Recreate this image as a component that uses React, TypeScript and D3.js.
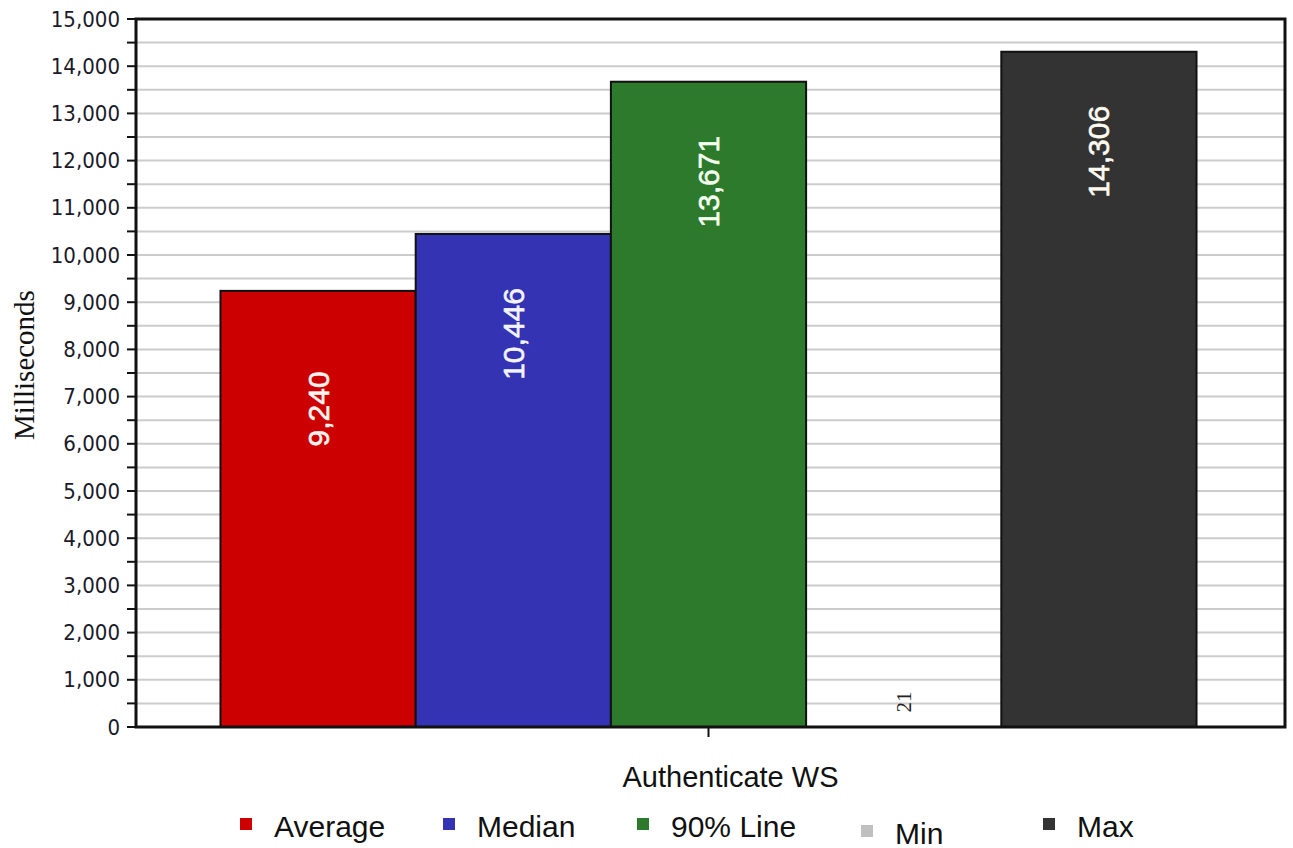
import React from "react";
import * as d3 from "d3";

const category = "Authenticate WS";
const seriesNames = ["Average", "Median", "90% Line", "Min", "Max"];
const seriesValues = [9240, 10446, 13671, 21, 14306];
const seriesColors = ["#cc0000", "#3333b3", "#2d7a2d", "#c0c0c0", "#333333"];
const labelColors = ["#fff4f0", "#f4f4ff", "#f4fff0", "#222222", "#fffaf0"];
const yTicks = d3.range(0, 15001, 1000);
const yMinor = d3.range(0, 15001, 500);

const W = 1293;
const H = 848;
const plot = { left: 136, top: 19, right: 1285, bottom: 727 };

export default function App() {
  const y = d3.scaleLinear().domain([0, 15000]).range([plot.bottom, plot.top]);
  const xGroup = d3.scaleBand().domain([category]).range([plot.left, plot.right]).paddingOuter(0.0886).paddingInner(0);
  const g0 = xGroup(category)!;
  const gw = xGroup.bandwidth();
  const xSeries = d3.scaleBand().domain(seriesNames).range([g0 - 2, g0 + gw - 2]);
  const fmt = d3.format(",");
  const center = g0 + gw / 2 - 2;

  const legendX = [240, 443, 637, 861, 1043];
  const legendDy = [0, 0, 0, 7, 0];

  return (
    <svg width={W} height={H} style={{ position: "absolute", left: 0, top: 0, background: "#fff" }}>
      {yMinor.map((t) => (
        <line key={"g" + t} x1={plot.left} x2={plot.right} y1={y(t)} y2={y(t)} stroke="#cccccc" strokeWidth={2} />
      ))}
      {seriesValues.map((v, i) => (
        <rect
          key={"b" + i}
          x={xSeries(seriesNames[i])!}
          y={y(v)}
          width={xSeries.bandwidth()}
          height={plot.bottom - y(v)}
          fill={v > 100 ? seriesColors[i] : "none"}
          stroke={v > 100 ? "#111" : "none"}
          strokeWidth={2}
        />
      ))}
      {seriesValues.map((v, i) => {
        const cx = xSeries(seriesNames[i])! + xSeries.bandwidth() / 2;
        const isSmall = v < 100;
        const cy = isSmall ? y(v) - 24 : y(v) + 100 + (String(v).length < 5 ? 18 : 0);
        return (
          <text
            key={"l" + i}
            transform={`translate(${cx},${cy}) rotate(-90)`}
            textAnchor="middle"
            dominantBaseline="central"
            fill={labelColors[i]}
            fontFamily={isSmall ? "Liberation Serif, serif" : "Liberation Sans, Arial, sans-serif"}
            fontSize={isSmall ? 21 : 30}
            fontWeight="normal"
            stroke={isSmall ? "none" : labelColors[i]}
            strokeWidth={isSmall ? 0 : 0.6}
          >
            {fmt(v)}
          </text>
        );
      })}
      <rect x={plot.left} y={plot.top} width={plot.right - plot.left} height={plot.bottom - plot.top} fill="none" stroke="#111" strokeWidth={3} />
      {yMinor.map((t) => (
        <line key={"t" + t} x1={plot.left - 9} x2={plot.left} y1={y(t)} y2={y(t)} stroke="#111" strokeWidth={2} />
      ))}
      {yTicks.map((t) => (
        <text
          key={"yl" + t}
          x={plot.left - 16}
          y={y(t)}
          textAnchor="end"
          dominantBaseline="central"
          fontFamily="DejaVu Sans Condensed, DejaVu Sans, sans-serif"
          fontSize={22}
          fill="#1a1a2a"
        >
          {fmt(t)}
        </text>
      ))}
      <line x1={center} x2={center} y1={plot.bottom} y2={plot.bottom + 10} stroke="#111" strokeWidth={2} />
      <text x={center + 22} y={777} textAnchor="middle" dominantBaseline="central" fontFamily="Liberation Sans, Arial, sans-serif" fontSize={29} fill="#111">
        {category}
      </text>
      <text transform={`translate(24,365) rotate(-90)`} textAnchor="middle" dominantBaseline="central" fontFamily="Liberation Serif, Times New Roman, serif" fontSize={29} fill="#111">
        Milliseconds
      </text>
      {seriesNames.map((n, i) => (
        <g key={"lg" + i} transform={`translate(${legendX[i]},${818 + legendDy[i]})`}>
          <rect x={0} y={0} width={12} height={12} fill={seriesColors[i]} />
          <text x={34} y={8} dominantBaseline="central" fontFamily="Liberation Sans, Arial, sans-serif" fontSize={30} fill="#111">
            {n}
          </text>
        </g>
      ))}
    </svg>
  );
}
